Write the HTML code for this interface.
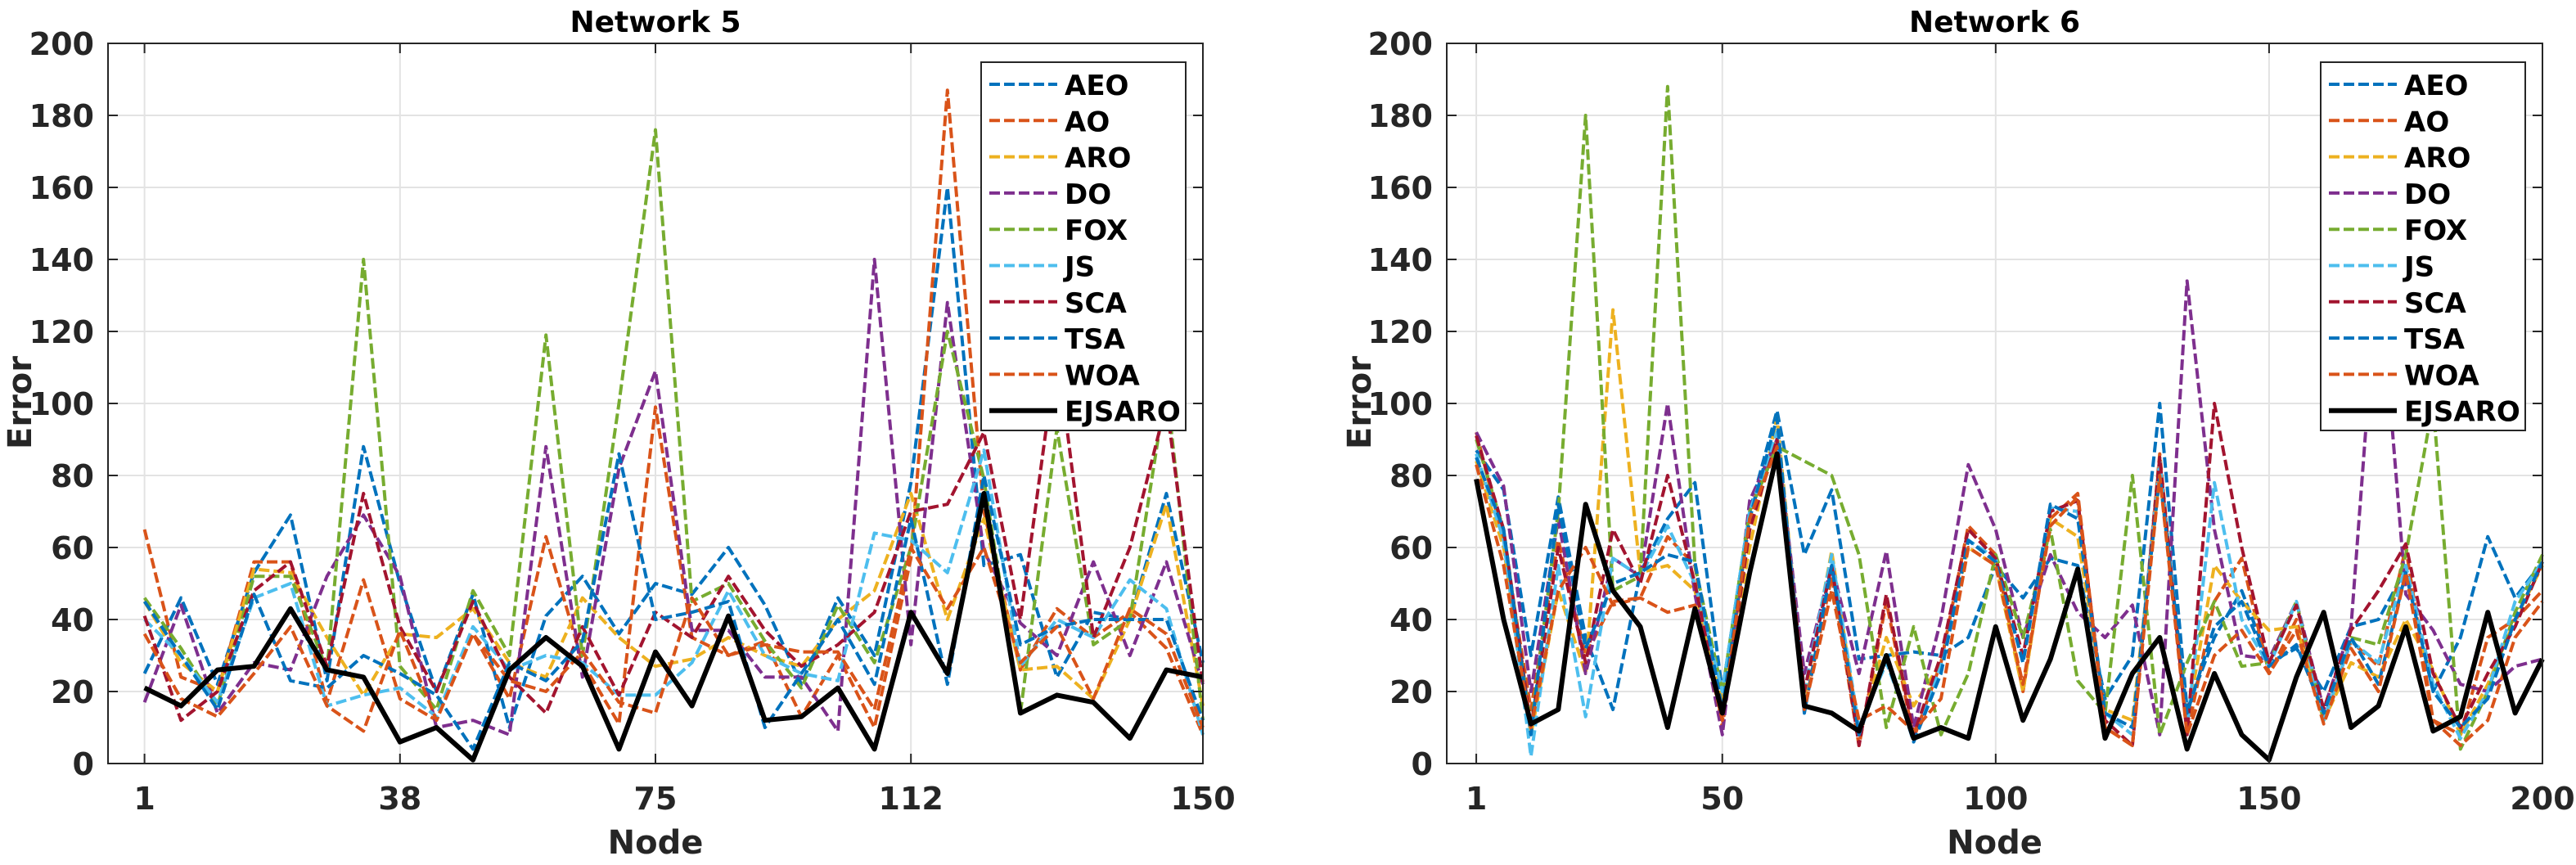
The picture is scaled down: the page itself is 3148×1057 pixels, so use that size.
<!DOCTYPE html>
<html><head><meta charset="utf-8"><style>
body{margin:0;background:#fff;}
svg{display:block;font-family:"DejaVu Sans","Liberation Sans",Arial,sans-serif;font-weight:bold;}
</style></head><body>
<svg id="chart" width="3148" height="1057" viewBox="0 0 3148 1057"></svg>
<script>
const seriesNames=["AEO","AO","ARO","DO","FOX","JS","SCA","TSA","WOA","EJSARO"];
const seriesColors=["#0072BD","#D95319","#EDB120","#7E2F8E","#77AC30","#4DBEEE","#A2142F","#0072BD","#D95319","#000000"];
const yTicks=[0,20,40,60,80,100,120,140,160,180,200];
const n5TickIdx=[1,8,15,22,30];
const n5TickLabels=["1","38","75","112","150"];
const n6TickIdx=[1,10,20,30,40];
const n6TickLabels=["1","50","100","150","200"];
// Network 5 (30 points)
const n5AEO=[25,46,22,53,69,23,88,50,20,47,10,41,52,36,50,47,60,44,22,46,30,78,160,55,58,24,42,40,75,28];
const n5AO=[65,24,20,56,56,17,51,18,12,36,18,63,28,11,99,35,30,34,13,30,10,57,187,70,26,43,35,42,32,8];
const n5ARO=[45,28,20,54,53,35,19,36,35,43,28,24,46,35,27,29,35,30,27,40,48,75,40,68,26,27,18,40,72,16];
const n5DO=[17,44,14,28,26,52,69,52,10,12,8,88,24,82,109,37,37,24,24,9,140,33,128,59,39,30,56,30,56,22];
const n5FOX=[46,32,16,52,52,26,140,27,15,48,30,119,30,100,176,45,50,34,21,44,28,60,120,79,14,93,33,40,105,12];
const n5JS=[40,30,17,46,50,16,19,21,13,38,26,30,28,19,19,28,48,30,25,23,64,62,53,87,27,40,35,51,43,8];
const n5SCA=[41,12,20,48,56,27,75,38,20,45,24,14,38,19,42,35,52,37,27,33,42,70,72,92,40,115,35,60,100,22];
const n5TSA=[45,30,15,47,23,21,30,25,19,4,28,23,34,86,40,42,45,10,25,40,22,68,22,80,33,38,40,40,40,12];
const n5WOA=[36,18,13,25,38,16,9,37,12,36,23,20,31,17,14,46,30,33,31,31,15,60,43,60,28,38,18,43,36,10];
const n5EJSARO=[21,16,26,27,43,26,24,6,10,1,26,35,27,4,31,16,41,12,13,21,4,42,25,75,14,19,17,7,26,24];
// Network 6 (40 points)
const n6AEO=[87,76,30,74,35,15,53,68,78,20,70,98,58,76,29,30,31,30,35,55,46,57,55,18,30,100,15,35,48,28,32,20,38,40,54,20,35,63,46,56];
const n6AO=[92,62,15,62,30,45,46,63,55,10,70,90,15,52,5,45,7,28,66,58,20,68,75,10,5,86,8,45,57,25,40,12,34,27,60,12,8,35,40,48];
const n6ARO=[84,60,8,48,25,126,53,55,48,17,60,96,18,59,8,35,16,28,60,55,20,68,63,15,12,80,12,55,45,37,38,12,28,24,40,26,8,22,40,55];
const n6DO=[92,77,20,68,25,57,52,100,47,8,73,90,25,55,25,59,10,40,83,65,35,58,42,35,44,8,134,65,30,29,45,15,38,140,47,37,22,20,27,29];
const n6FOX=[90,65,10,70,180,48,52,188,55,20,70,88,84,80,58,10,38,8,25,58,35,65,23,14,80,8,28,45,27,28,45,12,35,33,58,100,4,20,42,58];
const n6JS=[86,62,2,55,13,57,52,66,50,20,70,92,20,58,10,28,8,27,62,57,28,71,70,14,8,84,10,78,40,27,45,12,34,28,55,22,7,20,45,56];
const n6SCA=[91,65,10,60,28,65,50,80,50,12,65,90,20,55,5,47,8,30,65,57,30,70,73,12,5,85,8,100,60,28,44,15,37,48,61,25,10,25,38,56];
const n6TSA=[85,65,8,72,32,50,53,58,56,15,68,96,14,55,8,30,6,25,62,56,28,72,68,14,10,80,14,38,45,27,33,14,35,22,53,20,10,18,40,56];
const n6WOA=[83,55,10,48,60,44,46,42,44,12,68,88,15,48,12,16,9,18,60,55,22,66,74,10,5,80,8,30,37,25,37,11,32,20,53,12,5,12,35,45];
const n6EJSARO=[79,40,11,15,72,48,38,10,43,14,53,86,16,14,9,30,7,10,7,38,12,29,54,7,25,35,4,25,8,1,24,42,10,16,38,9,13,42,14,29];

const n5Series=[n5AEO,n5AO,n5ARO,n5DO,n5FOX,n5JS,n5SCA,n5TSA,n5WOA,n5EJSARO];
const n6Series=[n6AEO,n6AO,n6ARO,n6DO,n6FOX,n6JS,n6SCA,n6TSA,n6WOA,n6EJSARO];

const NS="http://www.w3.org/2000/svg";
const svg=document.getElementById('chart');
function mk(tag,attrs,parent,text){const e=document.createElementNS(NS,tag);for(const k in attrs)e.setAttribute(k,attrs[k]);if(text!==undefined)e.textContent=text;(parent||svg).appendChild(e);return e;}

function drawPanel(cfg){
  const g=mk('g',{});
  
  
  const L=cfg.left,R=cfg.right,T=53,B=933;
  const xs=i=>L+(i-cfg.xmin)/(cfg.xmax-cfg.xmin)*(R-L);
  const ys=v=>B-(v-0)/200*(B-T);
  yTicks.forEach(v=>{
    const ln=mk('line',{x1:L,x2:R,y1:ys(v),y2:ys(v),stroke:'#e3e3e3','stroke-width':2},g);
    
    
  });
  cfg.tickIdx.forEach(i=>{
    const ln=mk('line',{x1:xs(i),x2:xs(i),y1:T,y2:B,stroke:'#e3e3e3','stroke-width':2},g);
    
    
  });
  cfg.series.forEach((arr,s)=>{
    const pts=arr.map((v,k)=>xs(k+1).toFixed(1)+','+ys(v).toFixed(1)).join(' ');
    const black=s===9;
    const pl=mk('polyline',{points:pts,fill:'none',stroke:seriesColors[s],'stroke-width':black?6:4,'stroke-dasharray':black?'none':'13,5','stroke-linejoin':'round'},g);
    
    
  });
  const box=mk('rect',{x:L,y:T,width:R-L,height:B-T,fill:'none',stroke:'#262626','stroke-width':2},g);
  
  
  yTicks.forEach(v=>{
    mk('line',{x1:L,x2:L+12,y1:ys(v),y2:ys(v),stroke:'#262626','stroke-width':2},g);
    mk('line',{x1:R,x2:R-12,y1:ys(v),y2:ys(v),stroke:'#262626','stroke-width':2},g);
    const t=mk('text',{x:L-17,y:ys(v)+14,'text-anchor':'end','font-size':38,fill:'#262626'},g,String(v));
    
    
  });
  cfg.tickIdx.forEach((i,k)=>{
    mk('line',{x1:xs(i),x2:xs(i),y1:B,y2:B-12,stroke:'#262626','stroke-width':2},g);
    mk('line',{x1:xs(i),x2:xs(i),y1:T,y2:T+12,stroke:'#262626','stroke-width':2},g);
    const t=mk('text',{x:xs(i),y:989,'text-anchor':'middle','font-size':38,fill:'#262626'},g,cfg.tickLabels[k]);
    
    
  });
  const title=mk('text',{x:(L+R)/2,y:39,'text-anchor':'middle','font-size':36,fill:'#000'},g,cfg.title);
  
  
  const xl=mk('text',{x:(L+R)/2,y:1043,'text-anchor':'middle','font-size':40,fill:'#262626'},g,'Node');
  
  
  const yl=mk('text',{x:cfg.ylabX,y:492,'text-anchor':'middle','font-size':40,fill:'#262626',transform:'rotate(-90 '+cfg.ylabX+' 492)'},g,'Error');
  
  
  const lg=mk('g',{},g);
  
  
  mk('rect',{x:cfg.legX,y:76,width:250,height:450,fill:'#fff',stroke:'#262626','stroke-width':2},lg);
  seriesNames.forEach((nm,s)=>{
    const cy=103+s*44.3;
    const black=s===9;
    const e=mk('g',{},lg);
    
    
    mk('line',{x1:cfg.legX+10,x2:cfg.legX+93,y1:cy,y2:cy,stroke:seriesColors[s],'stroke-width':black?6:4,'stroke-dasharray':black?'none':'13,5'},e);
    mk('text',{x:cfg.legX+102,y:cy+13,'font-size':34,fill:'#000'},e,nm);
  });
}
drawPanel({id:'network-5',title:'Network 5',left:132,right:1470,xmin:0,xmax:30,tickIdx:n5TickIdx,tickLabels:n5TickLabels,series:n5Series,ylabX:38,legX:1199});
drawPanel({id:'network-6',title:'Network 6',left:1768,right:3107,xmin:-0.08,xmax:40,tickIdx:n6TickIdx,tickLabels:n6TickLabels,series:n6Series,ylabX:1675,legX:2836});
</script>
</body></html>
